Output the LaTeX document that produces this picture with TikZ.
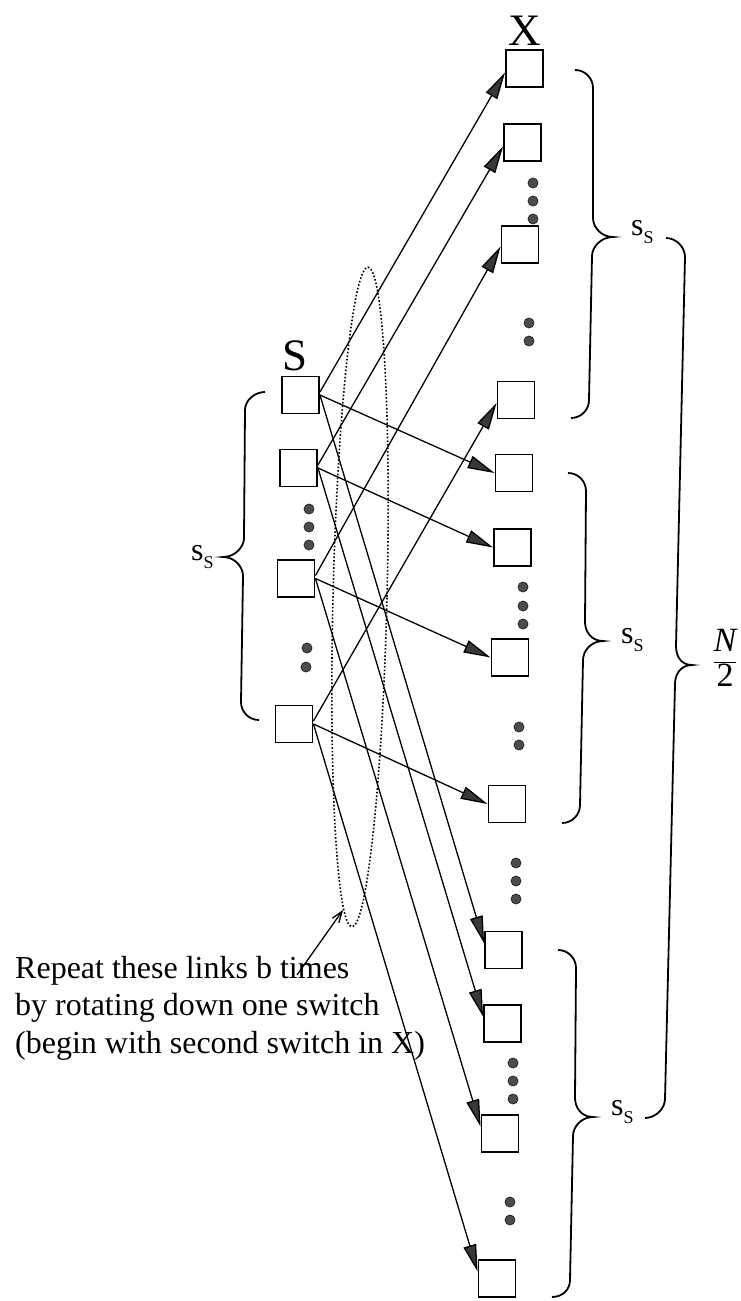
\documentclass[tikz,border=0pt]{standalone}
\usepackage{fontspec}
\setmainfont{Liberation Serif}
\usetikzlibrary{arrows.meta,calc}

\newcommand\sSlabel{{\fontsize{32}{32}\selectfont s\raisebox{-8pt}{\fontsize{18}{18}\selectfont S}}}
% brace: #1 end1, #2 start of first straight, #3 end of first straight, #4 tip, #5 start of second straight, #6 end of second straight, #7 end2, #8 direction (1 = right, -1 = left)
\newcommand\mybrace[8]{%
  \draw[brc] (#1) .. controls +({#8*10},0) and +(0,-10) .. (#2) -- (#3)
    .. controls +(0,9) and +({-(#8)*12},0) .. (#4)
    .. controls +({-(#8)*12},0) and +(0,-9) .. (#5) -- (#6)
    .. controls +(0,10) and +({#8*10},0) .. (#7);}

\begin{document}
\begin{tikzpicture}[x=1pt,y=-1pt,
  sw/.style={draw, line width=1.9pt, minimum size=37pt, inner sep=0pt},
  dot/.style={circle, fill=black!70, draw=black!85, line width=0.8pt, inner sep=0pt, minimum size=10pt},
  link/.style={line width=1.3pt, -{Triangle[length=27pt,width=13pt,fill=black!78]}},
  brc/.style={line width=1.8pt},
  lbl/.style={inner sep=0pt, anchor=base west},
  big/.style={font=\fontsize{45}{45}\selectfont, inner sep=0pt, anchor=base},
  note/.style={font=\fontsize{32}{32}\selectfont, inner sep=0pt, anchor=base west},
  pointer/.style={line width=1.3pt, -{Straight Barb[length=11pt,width=8pt]}},
  group/.style={dotted, line width=1.6pt}
]
\useasboundingbox (0,0) rectangle (741,1301);

% switches in S
\node[sw] (S1) at (300.5,395) {};
\node[sw] (S2) at (298.5,468) {};
\node[sw] (S3) at (296,578.5) {};
\node[sw] (S4) at (294,724) {};

% switches in X
\node[sw] (X1) at (524.5,68.5) {};
\node[sw] (X2) at (522.5,142.5) {};
\node[sw] (X3) at (520,244.5) {};
\node[sw] (X4) at (516,400) {};
\node[sw] (X5) at (514,473) {};
\node[sw] (X6) at (512.5,547.5) {};
\node[sw] (X7) at (510,657.5) {};
\node[sw] (X8) at (507,804) {};
\node[sw] (X9) at (503.5,950) {};
\node[sw] (X10) at (502.5,1023.5) {};
\node[sw] (X11) at (500,1133.5) {};
\node[sw] (X12) at (497,1278.5) {};

% dots
\node[dot] (ds1) at (309,509) {};
\node[dot] (ds2) at (309,527) {};
\node[dot] (ds3) at (309,545) {};
\node[dot] (ds4) at (307,648) {};
\node[dot] (ds5) at (306,667) {};

\node[dot] (dx1) at (533,183) {};
\node[dot] (dx2) at (533,201) {};
\node[dot] (dx3) at (533,219) {};
\node[dot] (dx4) at (529,323) {};
\node[dot] (dx5) at (529,341) {};
\node[dot] (dx6) at (523,587) {};
\node[dot] (dx7) at (523,606) {};
\node[dot] (dx8) at (523,624) {};
\node[dot] (dx9) at (519,727) {};
\node[dot] (dx10) at (519,745) {};
\node[dot] (dx11) at (516,863) {};
\node[dot] (dx12) at (516,881) {};
\node[dot] (dx13) at (516,899) {};
\node[dot] (dx14) at (513,1063) {};
\node[dot] (dx15) at (513,1081) {};
\node[dot] (dx16) at (513,1099) {};
\node[dot] (dx17) at (510,1202) {};
\node[dot] (dx18) at (510,1220) {};

% labels
\node[big] (Slab) at (295,370) {S};
\node[big] (Xlab) at (525,45) {X};

% links
\draw[link] ([yshift=3pt]S1.east) -- ([yshift=-4pt]X1.west);
\draw[link] ([yshift=3pt]S2.east) -- ([yshift=-4pt]X2.west);
\draw[link] ([yshift=3pt]S3.east) -- ([yshift=-2pt]X3.west);
\draw[link] ([yshift=3pt]S4.east) -- ([yshift=-3pt]X4.west);

\draw[link] (S1.east) -- (X5.west);
\draw[link] (S2.east) -- (X6.west);
\draw[link] (S3.east) -- (X7.west);
\draw[link] (S4.east) -- (X8.west);

\draw[link] (S1.east) -- ([yshift=7pt]X9.west);
\draw[link] (S2.east) -- ([yshift=7pt]X10.west);
\draw[link] (S3.east) -- ([yshift=7pt]X11.west);
\draw[link] (S4.east) -- ([yshift=7pt]X12.west);

% dotted group of links
\draw[group] (360,597) ellipse [x radius=27, y radius=330, rotate=-1.4];

% braces
\mybrace{575,70}{593,88}{593,218}{613,237}{592,256}{589,400}{571,418}{1}
\mybrace{568,473}{586,491}{585,622}{603,641}{583,660}{580,805}{562,823}{1}
\mybrace{558,950}{576,968}{575,1098}{593,1117}{573,1136}{570,1280}{552,1297}{1}
\mybrace{666,238}{685,257}{676,646}{692,665}{675,684}{665,1099}{645,1118}{1}
\mybrace{265,392}{245,410}{244,538}{223,557}{243,576}{241,702}{259,720}{-1}

\node[lbl] (ss0) at (191,560) {\sSlabel};
\node[lbl] (ss1) at (631,235) {\sSlabel};
\node[lbl] (ss2) at (621,643) {\sSlabel};
\node[lbl] (ss3) at (611,1115) {\sSlabel};
\node[inner sep=0pt, font=\fontsize{34}{34}\selectfont] (Nhalf) at (725,658) {$\displaystyle\frac{\mbox{\itshape N}}{\mbox{2}}$};

% note
\node[note] (t1) at (15,978) {Repeat these links b times};
\node[note] (t2) at (15,1015.5) {by rotating down one switch};
\node[note] (t3) at (15,1053) {(begin with second switch in X)};
\coordinate (ptrA) at (297,975);
\coordinate (ptrB) at (343,910);
\draw[pointer] (ptrA) -- (ptrB);
\end{tikzpicture}
\end{document}
